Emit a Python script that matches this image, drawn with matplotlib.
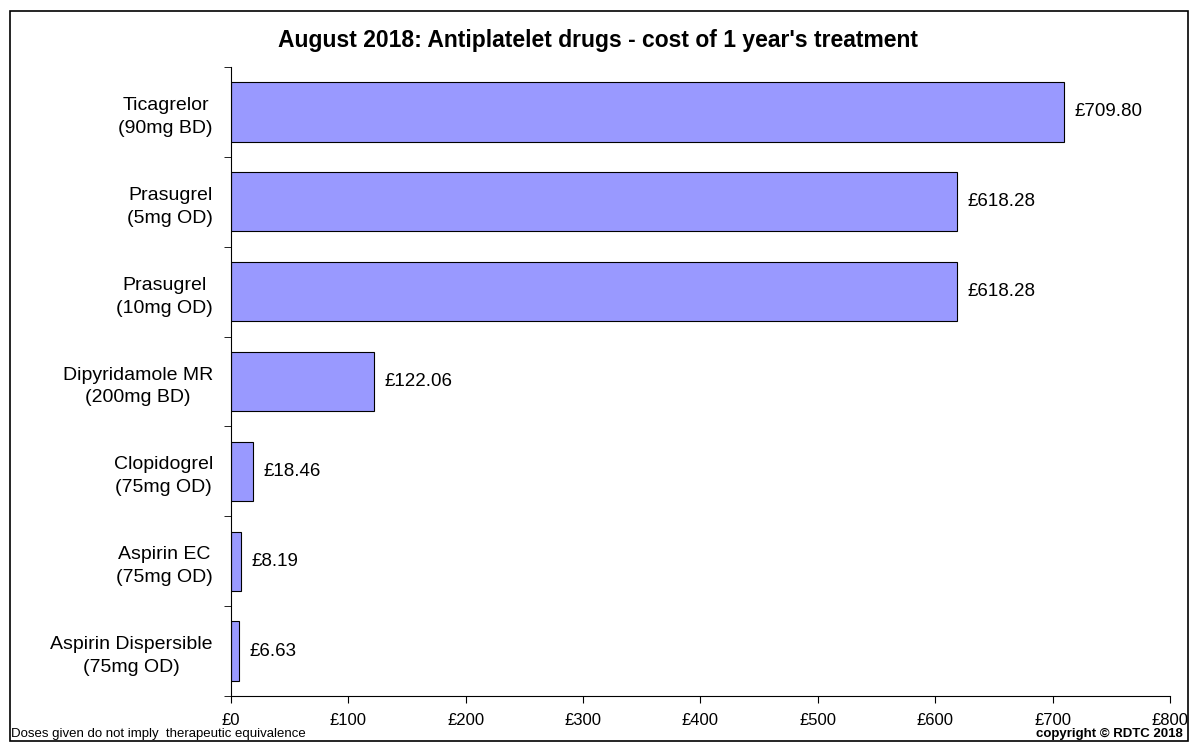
import matplotlib
matplotlib.use("Agg")
import matplotlib.pyplot as plt
from matplotlib.patches import Rectangle
from matplotlib.ticker import FixedLocator

plt.rcParams['font.family'] = ['Liberation Sans', 'DejaVu Sans']

drugs = ["Aspirin Dispersible\n(75mg OD)", "Aspirin EC\n(75mg OD)", "Clopidogrel\n(75mg OD)",
         "Dipyridamole MR\n(200mg BD)", "Prasugrel\n(10mg OD)", "Prasugrel\n(5mg OD)",
         "Ticagrelor\n(90mg BD)"]
costs = [6.63, 8.19, 18.46, 122.06, 618.28, 618.28, 709.80]
xticks = [0, 100, 200, 300, 400, 500, 600, 700, 800]
xticklabels = ["£%d" % v for v in xticks]

fig = plt.figure(figsize=(11.95, 7.45), dpi=100)
ax = fig.add_axes([0.1933, 0.0658, 0.7857, 0.8442])

ypos = list(range(len(drugs)))
ax.barh(ypos, costs, height=0.66, color='#9999FF', edgecolor='black', linewidth=0.8)
for y, c in zip(ypos, costs):
    ax.text(c + 9, y, "£%.2f" % c, va='center', ha='left', fontsize=13.5)

ax.set_xlim(0, 800)
ax.set_ylim(-0.5, len(drugs) - 0.5)
ax.set_xticks(xticks)
ax.set_xticklabels(xticklabels, fontsize=12)
ax.set_yticks(ypos)
ax.set_yticklabels(drugs, fontsize=14, ha='right', multialignment='center', linespacing=1.45)
ax.tick_params(axis='y', which='major', length=0, pad=13)
ax.yaxis.set_minor_locator(FixedLocator([y - 0.5 for y in range(len(drugs) + 1)]))
ax.tick_params(axis='y', which='minor', length=5, direction='out')
ax.tick_params(axis='x', length=5, direction='out', pad=7)
for s in ['top', 'right']:
    ax.spines[s].set_visible(False)

fig.text(0.5, 0.946, "August 2018: Antiplatelet drugs - cost of 1 year's treatment",
         ha='center', va='center', fontsize=16.5, fontweight='bold')
fig.text(0.009, 0.007, "Doses given do not imply  therapeutic equivalence", fontsize=9.5,
         ha='left', va='bottom')
fig.text(0.99, 0.007, "copyright © RDTC 2018", fontsize=9.5, fontweight='bold',
         ha='right', va='bottom')

fig.add_artist(Rectangle((0.008, 0.005), 0.986, 0.98, transform=fig.transFigure,
                         fill=False, edgecolor='black', linewidth=1.2))

fig.savefig("out.png", dpi=100)
